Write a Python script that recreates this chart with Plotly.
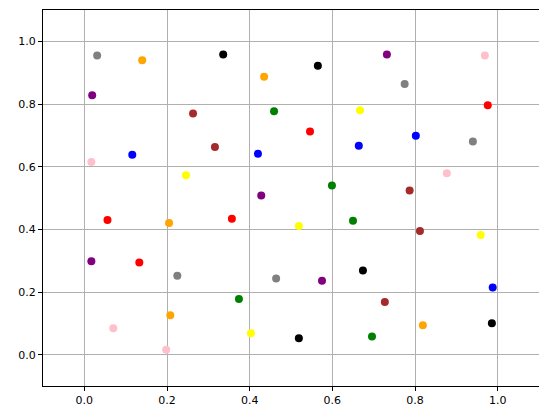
import plotly.graph_objects as go

x = [0.031, 0.14, 0.336, 0.435, 0.565, 0.732, 0.969, 0.019, 0.775, 0.976,
     0.263, 0.459, 0.667, 0.546, 0.802, 0.94, 0.017, 0.116, 0.316, 0.42,
     0.664, 0.877, 0.246, 0.428, 0.599, 0.787, 0.056, 0.205, 0.357, 0.519,
     0.65, 0.812, 0.959, 0.017, 0.133, 0.225, 0.464, 0.575, 0.674, 0.988,
     0.374, 0.727, 0.07, 0.208, 0.403, 0.519, 0.696, 0.819, 0.986, 0.198]
y = [0.955, 0.94, 0.958, 0.887, 0.922, 0.958, 0.955, 0.828, 0.864, 0.796,
     0.770, 0.777, 0.78, 0.712, 0.699, 0.68, 0.615, 0.638, 0.663, 0.641,
     0.667, 0.579, 0.573, 0.508, 0.54, 0.524, 0.43, 0.42, 0.434, 0.411,
     0.427, 0.395, 0.382, 0.298, 0.294, 0.252, 0.243, 0.236, 0.269, 0.214,
     0.178, 0.168, 0.084, 0.126, 0.068, 0.052, 0.058, 0.094, 0.10, 0.016]
colors = ["gray", "orange", "black", "orange", "black", "purple", "pink", "purple", "gray", "red",
          "brown", "green", "yellow", "red", "blue", "gray", "pink", "blue", "brown", "blue",
          "blue", "pink", "yellow", "purple", "green", "brown", "red", "orange", "red", "yellow",
          "green", "brown", "yellow", "purple", "red", "gray", "gray", "purple", "black", "blue",
          "green", "brown", "pink", "orange", "yellow", "black", "green", "orange", "black", "pink"]

fig = go.Figure(go.Scatter(
    x=x, y=y, mode="markers",
    marker=dict(color=colors, size=8),
    showlegend=False
))

axis = dict(
    showgrid=True, gridcolor="#b0b0b0", gridwidth=1,
    zeroline=False, showline=True, linecolor="black", mirror=True,
    ticks="outside", ticklen=4, tickcolor="black",
    tickfont=dict(family="DejaVu Sans", size=11, color="black"),
    tickformat=".1f", dtick=0.2,
)
fig.update_xaxes(**axis, range=[-0.1, 1.1])
fig.update_yaxes(**axis, range=[-0.1, 1.1])
fig.update_layout(
    width=547, height=413,
    margin=dict(l=35, r=16, t=2, b=35),
    plot_bgcolor="white", paper_bgcolor="white",
)
fig.write_html("out.html")
